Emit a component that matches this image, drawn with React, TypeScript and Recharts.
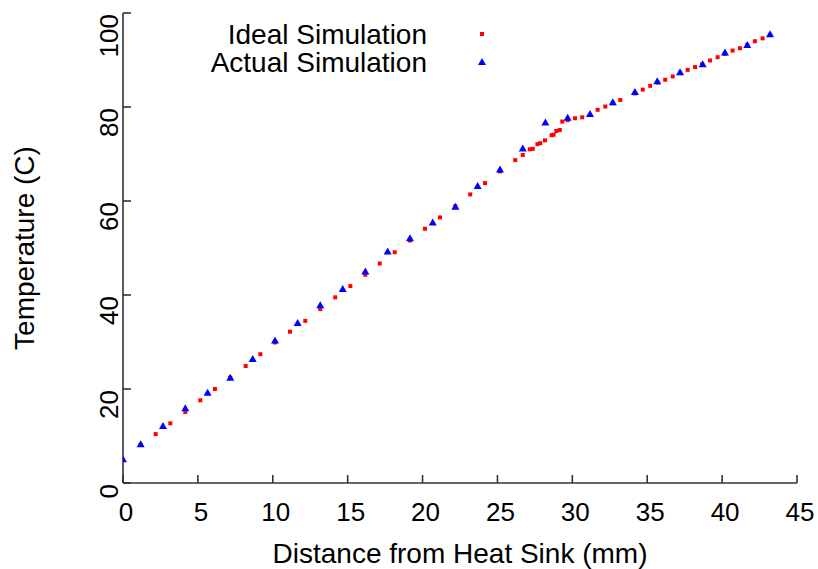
import React from 'react'
import { ScatterChart, Scatter, XAxis, YAxis, Legend } from 'recharts'

// distance (mm) / temperature (C)
const idealDistance = [
  0, 1.18, 2.18, 3.16, 4.16, 5.16, 6.14, 7.16, 8.19, 9.17, 10.15, 11.15, 12.17, 13.17, 14.17, 15.18,
  16.18, 17.14, 18.14, 19.16, 20.16, 21.16, 22.19, 23.18, 24.17, 25.17, 26.19, 26.69, 27.16, 27.36,
  27.67, 27.85, 28.17, 28.62, 28.75, 28.93, 29.16, 29.33, 29.69, 30.18, 30.66, 31.18, 31.69, 32.2,
  32.7, 33.2, 34.18, 34.7, 35.2, 35.7, 36.2, 36.7, 37.2, 37.7, 38.19, 38.67, 39.19, 39.7, 40.19,
  40.7, 41.19, 41.68, 42.19, 42.7, 43.2,
]
const idealTemp = [
  4.9, 8.1, 10.4, 12.7, 15.1, 17.6, 20.0, 22.4, 24.9, 27.4, 29.9, 32.2, 34.5, 37.0, 39.5, 41.9,
  44.3, 46.7, 49.1, 51.6, 54.1, 56.5, 58.9, 61.4, 63.8, 66.3, 68.7, 69.8, 71.0, 71.1,
  72.1, 72.3, 72.9, 74.0, 74.1, 74.9, 75.1, 76.9, 77.2, 77.6, 77.8, 78.3, 79.4, 80.1,
  80.8, 81.5, 82.9, 83.7, 84.5, 85.2, 85.8, 86.5, 87.2, 87.9, 88.5, 89.1, 89.9, 90.6, 91.3,
  92.0, 92.5, 93.2, 94.0, 94.6, 95.3,
]
const actualDistance = [
  0, 1.18, 2.67, 4.16, 5.65, 7.16, 8.66, 10.15, 11.66, 13.17, 14.67, 16.18, 17.67, 19.16, 20.68,
  22.19, 23.68, 25.17, 26.69, 28.2, 29.69, 31.18, 32.7, 34.18, 35.67, 37.19, 38.7, 40.19, 41.68, 43.2,
]
const actualTemp = [
  5.05, 8.25, 12.15, 15.9, 19.2, 22.4, 26.4, 30.3, 34.05, 37.8, 41.3, 45.0, 49.25, 52.1, 55.4,
  58.8, 63.2, 66.7, 71.15, 76.7, 77.7, 78.5, 81.0, 83.2, 85.5, 87.4, 89.1, 91.6, 93.2, 95.5,
]

const xTicks = [0, 5, 10, 15, 20, 25, 30, 35, 40, 45]
const yTicks = [0, 20, 40, 60, 80, 100]
const seriesNames = ['Ideal Simulation', 'Actual Simulation']

const ideal = idealDistance.map((x, i) => ({ x, y: idealTemp[i] }))
const actual = actualDistance.map((x, i) => ({ x, y: actualTemp[i] }))

const FONT = '"Liberation Sans", Arial, Helvetica, sans-serif'
const AXIS = '#333'

const Square = ({ cx, cy }: any) => <rect x={cx - 2} y={cy - 2} width={4} height={4} fill="#ff0000" />
const Triangle = ({ cx, cy }: any) => (
  <polygon points={`${cx},${cy - 4} ${cx - 4},${cy + 3} ${cx + 4},${cy + 3}`} fill="#0000ff" />
)

const XTick = ({ x, y, payload }: any) => (
  <text x={x + 3} y={y + 46} textAnchor="middle" fontSize={26} fontFamily={FONT} fill="#000">
    {payload.value}
  </text>
)

const YTick = ({ x, y, payload }: any) => (
  <text
    x={x - 13}
    y={y + 1}
    transform={`rotate(-90 ${x - 13} ${y + 1})`}
    textAnchor="end"
    fontSize={26}
    fontFamily={FONT}
    fill="#000"
  >
    {payload.value}
  </text>
)

const XTitle = ({ viewBox }: any) => (
  <text x={viewBox.x + viewBox.width / 2} y={563} textAnchor="middle" fontSize={28} fontFamily={FONT} fill="#000">
    Distance from Heat Sink (mm)
  </text>
)

const YTitle = ({ viewBox }: any) => {
  const cy = viewBox.y + viewBox.height / 2
  return (
    <text x={34} y={cy} transform={`rotate(-90 34 ${cy})`} textAnchor="middle" fontSize={28} fontFamily={FONT} fill="#000">
      Temperature (C)
    </text>
  )
}

const LegendBox = () => (
  <svg width={818} height={80} style={{ display: 'block' }}>
    <text x={427} y={44} textAnchor="end" fontSize={28} fontFamily={FONT} fill="#000">{seriesNames[0]}</text>
    <Square cx={482} cy={34} />
    <text x={427} y={72} textAnchor="end" fontSize={28} fontFamily={FONT} fill="#000">{seriesNames[1]}</text>
    <Triangle cx={482} cy={62} />
  </svg>
)

export default function App() {
  return (
    <div style={{ position: 'absolute', left: 0, top: 0, width: 818, height: 569, background: '#fff' }}>
      <ScatterChart width={818} height={569} margin={{ top: 13, right: 21, bottom: 0, left: 0 }}>
        <XAxis
          type="number"
          dataKey="x"
          domain={[0, 45]}
          ticks={xTicks}
          allowDataOverflow
          height={86}
          stroke={AXIS}
          strokeWidth={1.6}
          tickSize={-8}
          tickMargin={0}
          tick={<XTick />}
          label={<XTitle />}
        />
        <XAxis
          xAxisId="top"
          orientation="top"
          type="number"
          domain={[0, 45]}
          ticks={xTicks}
          allowDataOverflow
          height={0}
          stroke={AXIS}
          strokeWidth={1.6}
          tickSize={-8}
          tick={false}
        />
        <YAxis
          type="number"
          dataKey="y"
          domain={[0, 100]}
          ticks={yTicks}
          allowDataOverflow
          width={123}
          stroke={AXIS}
          strokeWidth={1.6}
          tickSize={-8}
          tickMargin={0}
          tick={<YTick />}
          label={<YTitle />}
        />
        <YAxis
          yAxisId="right"
          orientation="right"
          type="number"
          domain={[0, 100]}
          ticks={yTicks}
          allowDataOverflow
          width={0}
          stroke={AXIS}
          strokeWidth={1.6}
          tickSize={-8}
          tick={false}
        />
        <Legend
          layout="vertical"
          align="center"
          verticalAlign="middle"
          wrapperStyle={{ top: 0, left: 0, width: 818, height: 80 }}
          content={<LegendBox />}
        />
        <Scatter name={seriesNames[0]} data={ideal} shape={<Square />} isAnimationActive={false} />
        <Scatter name={seriesNames[1]} data={actual} shape={<Triangle />} isAnimationActive={false} />
      </ScatterChart>
    </div>
  )
}
